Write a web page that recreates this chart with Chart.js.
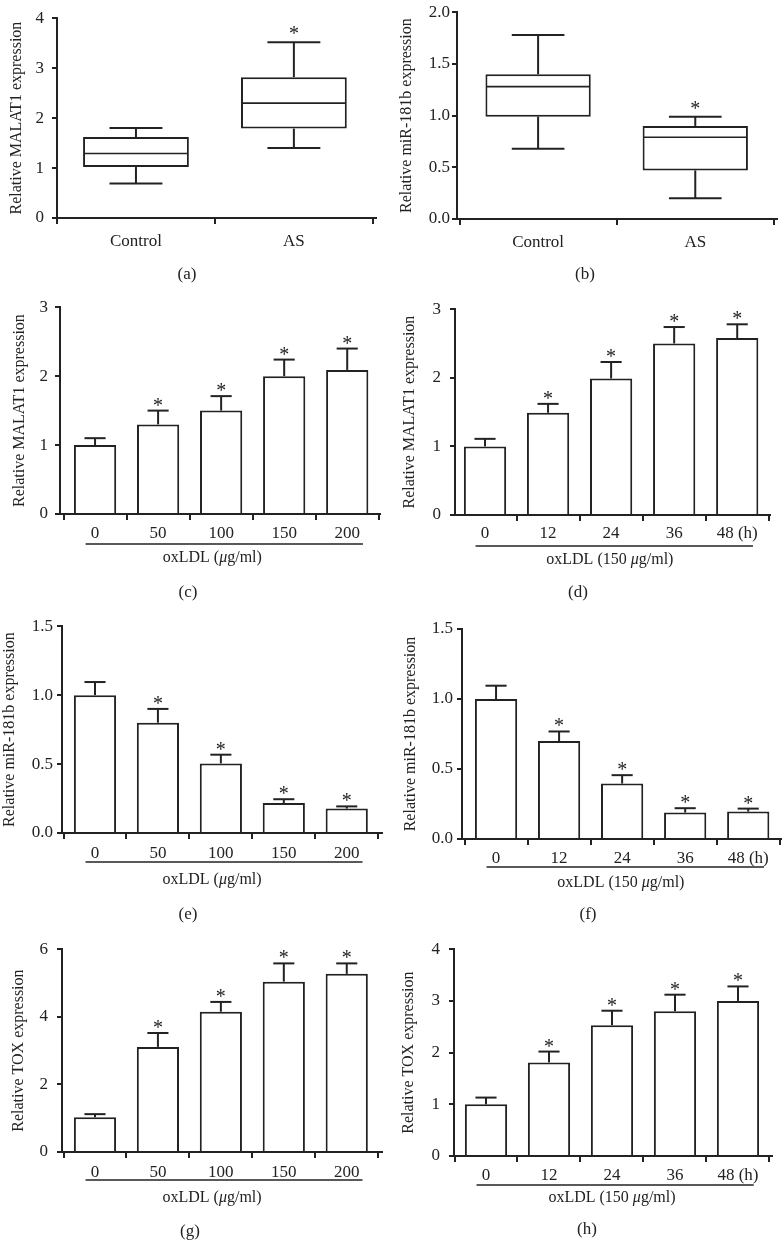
<!DOCTYPE html>
<html>
<head>
<meta charset="utf-8">
<script src="https://cdn.jsdelivr.net/npm/chart.js@4"></script>
<style>
  html, body { margin: 0; padding: 0; background: #fff; }
  #page { position: relative; width: 783px; height: 1253px; overflow: hidden; background: #fff; }
  #page canvas { position: absolute; }
</style>
</head>
<body>
<div id="page"></div>
<script>
// ---- data ----
const boxGroups = ['Control', 'AS'];
const malat1Min = [0.69, 1.40];
const malat1Q1 = [1.02, 1.79];
const malat1Median = [1.29, 2.30];
const malat1Q3 = [1.62, 2.82];
const malat1Max = [1.80, 3.52];
const mir181bMin = [0.68, 0.20];
const mir181bQ1 = [0.99, 0.47];
const mir181bMedian = [1.28, 0.79];
const mir181bQ3 = [1.40, 0.90];
const mir181bMax = [1.78, 0.99];
const boxStars = [false, true];

const doseLabels = ['0', '50', '100', '150', '200'];
const timeLabels = ['0', '12', '24', '36', '48 (h)'];
const barStars = [false, true, true, true, true];

const malat1Dose = [1.0, 1.30, 1.50, 2.00, 2.09];
const malat1DoseErr = [0.10, 0.20, 0.21, 0.24, 0.31];
const malat1Time = [1.0, 1.49, 1.99, 2.50, 2.58];
const malat1TimeErr = [0.11, 0.13, 0.24, 0.24, 0.20];
const mir181bDose = [1.0, 0.80, 0.505, 0.217, 0.177];
const mir181bDoseErr = [0.095, 0.10, 0.063, 0.028, 0.016];
const mir181bTime = [1.0, 0.70, 0.396, 0.189, 0.196];
const mir181bTimeErr = [0.095, 0.068, 0.06, 0.031, 0.021];
const toxDose = [1.03, 3.11, 4.15, 5.04, 5.27];
const toxDoseErr = [0.09, 0.41, 0.29, 0.54, 0.31];
const toxTime = [1.0, 1.81, 2.53, 2.80, 3.0];
const toxTimeErr = [0.13, 0.21, 0.28, 0.32, 0.28];

const INK = '#222222';
const FONT = '"Liberation Serif", "Times New Roman", serif';
const doseTitle = [['oxLDL (', false], ['\u03bc', true], ['g/ml)', false]];
const timeTitle = [['oxLDL (150 ', false], ['\u03bc', true], ['g/ml)', false]];

// layout of each panel: area = [left, right, top, bottom] of the plot, in page pixels
const panels = [
  { letter: '(a)', col: 0, top: 0, h: 290, area: [57, 376, 6, 218], xRange: [-0.5, 1.52],
    labels: boxGroups, box: { min: malat1Min, q1: malat1Q1, med: malat1Median, q3: malat1Q3, max: malat1Max },
    stars: boxStars, yMax: 4, step: 1, dec: 0, yTitle: 'Relative MALAT1 expression',
    titlePad: 7, yPad: 8, xPad: 7, letterX: 187, letterDy: 57 },
  { letter: '(b)', col: 1, top: 0, h: 290, area: [457, 777, 7, 219], xRange: [-0.516, 1.52],
    labels: boxGroups, box: { min: mir181bMin, q1: mir181bQ1, med: mir181bMedian, q3: mir181bQ3, max: mir181bMax },
    stars: boxStars, yMax: 2, step: 0.5, dec: 1, yTitle: 'Relative miR-181b expression',
    titlePad: 7, yPad: 2, xPad: 7, letterX: 585, letterDy: 56 },
  { letter: '(c)', col: 0, top: 290, h: 322, area: [60, 380, 302, 514], xRange: [-0.556, 4.52],
    labels: doseLabels, values: malat1Dose, err: malat1DoseErr, stars: barStars,
    yMax: 3, step: 1, dec: 0, yTitle: 'Relative MALAT1 expression', xTitle: doseTitle, titleAt: 1.86,
    titlePad: 10, yPad: 7, xPad: 3, lineDy: 30, titleDy: 44, letterX: 188, letterDy: 79 },
  { letter: '(d)', col: 1, top: 290, h: 322, area: [455, 770, 304, 515], xRange: [-0.476, 4.52],
    labels: timeLabels, values: malat1Time, err: malat1TimeErr, stars: barStars,
    yMax: 3, step: 1, dec: 0, yTitle: 'Relative MALAT1 expression', xTitle: timeTitle, titleAt: 1.98,
    titlePad: 10, yPad: 9, xPad: 2, lineDy: 31, titleDy: 45, letterX: 578, letterDy: 78 },
  { letter: '(e)', col: 0, top: 612, h: 318, area: [62, 382, 623, 833], xRange: [-0.524, 4.56],
    labels: doseLabels, values: mir181bDose, err: mir181bDoseErr, stars: barStars,
    yMax: 1.5, step: 0.5, dec: 1, yTitle: 'Relative miR-181b expression', xTitle: doseTitle, titleAt: 1.86,
    titlePad: 0, yPad: 4, xPad: 4, lineDy: 29, titleDy: 47, letterX: 188, letterDy: 82 },
  { letter: '(f)', col: 1, top: 612, h: 318, area: [462, 781, 629, 839], xRange: [-0.54, 4.52],
    labels: timeLabels, values: mir181bTime, err: mir181bTimeErr, stars: barStars,
    yMax: 1.5, step: 0.5, dec: 1, yTitle: 'Relative miR-181b expression', xTitle: timeTitle, titleAt: 1.98,
    titlePad: 11, yPad: 4, xPad: 3, lineDy: 28, titleDy: 44, letterX: 588, letterDy: 76 },
  { letter: '(g)', col: 0, top: 930, h: 323, area: [62, 382, 941, 1152], xRange: [-0.524, 4.56],
    labels: doseLabels, values: toxDose, err: toxDoseErr, stars: barStars,
    yMax: 6, step: 2, dec: 0, yTitle: 'Relative TOX expression', xTitle: doseTitle, titleAt: 1.86,
    titlePad: 9, yPad: 9, xPad: 4, lineDy: 28, titleDy: 46, letterX: 190, letterDy: 80 },
  { letter: '(h)', col: 1, top: 930, h: 323, area: [454, 772, 945, 1156], xRange: [-0.508, 4.54],
    labels: timeLabels, values: toxTime, err: toxTimeErr, stars: barStars,
    yMax: 4, step: 1, dec: 0, yTitle: 'Relative TOX expression', xTitle: timeTitle, titleAt: 2.0,
    titlePad: 9, yPad: 9, xPad: 3, lineDy: 29, titleDy: 42, letterX: 587, letterDy: 74 }
];

function seg(ctx, x0, y0, x1, y1) {
  ctx.beginPath();
  ctx.moveTo(x0, y0);
  ctx.lineTo(x1, y1);
  ctx.stroke();
}

// whiskers, error bars, stars, underline, x title and panel letter
function decorFor(p, canvasLeft) {
  return {
    id: 'decor' + p.letter,
    afterDatasetsDraw(chart) {
      const { ctx, scales: { y } } = chart;
      const bars = chart.getDatasetMeta(0).data;
      ctx.save();
      ctx.strokeStyle = INK;
      ctx.fillStyle = INK;
      ctx.lineWidth = 2;
      bars.forEach((bar, i) => {
        const { x: cx, width } = bar.getProps(['x', 'width'], true);
        let tip;
        if (p.box) {
          const half = width / 4;
          const top = y.getPixelForValue(p.box.max[i]);
          const bot = y.getPixelForValue(p.box.min[i]);
          const q1 = y.getPixelForValue(p.box.q1[i]);
          const q3 = y.getPixelForValue(p.box.q3[i]);
          const med = y.getPixelForValue(p.box.med[i]);
          seg(ctx, cx, q3, cx, top);
          seg(ctx, cx - half, top, cx + half, top);
          seg(ctx, cx, q1, cx, bot);
          seg(ctx, cx - half, bot, cx + half, bot);
          ctx.lineWidth = 1.6;
          seg(ctx, cx - width / 2 + 1, med, cx + width / 2 - 1, med);
          ctx.lineWidth = 2;
          tip = top - 2;
        } else {
          const half = width / 4;
          const barTop = y.getPixelForValue(p.values[i]);
          const top = y.getPixelForValue(p.values[i] + p.err[i]);
          seg(ctx, cx, barTop, cx, top);
          seg(ctx, cx - half, top, cx + half, top);
          tip = top + 1;
        }
        if (p.stars[i]) {
          ctx.font = '20px ' + FONT;
          ctx.textAlign = 'center';
          ctx.textBaseline = 'alphabetic';
          ctx.fillText('*', cx, tip);
        }
      });
      ctx.restore();
    },
    afterDraw(chart) {
      const { ctx, chartArea, scales: { x } } = chart;
      ctx.save();
      ctx.strokeStyle = INK;
      ctx.fillStyle = INK;
      ctx.textBaseline = 'middle';
      if (p.xTitle) {
        const yl = chartArea.bottom + p.lineDy;
        ctx.lineWidth = 1.5;
        seg(ctx, x.getPixelForValue(-0.15), yl, x.getPixelForValue(p.labels.length - 0.75), yl);
        const fonts = p.xTitle.map(([, it]) => (it ? 'italic ' : '') + '16px ' + FONT);
        let total = 0;
        p.xTitle.forEach(([t], k) => { ctx.font = fonts[k]; total += ctx.measureText(t).width; });
        let tx = x.getPixelForValue(p.titleAt) - total / 2;
        const ty = chartArea.bottom + p.titleDy;
        ctx.textAlign = 'left';
        p.xTitle.forEach(([t], k) => {
          ctx.font = fonts[k];
          ctx.fillText(t, tx, ty);
          tx += ctx.measureText(t).width;
        });
      }
      ctx.font = '17px ' + FONT;
      ctx.textAlign = 'center';
      ctx.fillText(p.letter, p.letterX - canvasLeft, chartArea.bottom + p.letterDy);
      ctx.restore();
    }
  };
}

const page = document.getElementById('page');

panels.forEach(p => {
  const left = p.col ? 390 : 0;
  const width = p.col ? 393 : 390;
  const [L, R, T, B] = p.area;
  const xH = 30;
  const canvas = document.createElement('canvas');
  canvas.width = width;
  canvas.height = p.h;
  canvas.style.left = left + 'px';
  canvas.style.top = p.top + 'px';
  page.appendChild(canvas);

  const data = p.box
    ? p.labels.map((_, i) => ({ x: i, y: [p.box.q1[i], p.box.q3[i]] }))
    : p.values.map((v, i) => ({ x: i, y: v }));

  new Chart(canvas, {
    type: 'bar',
    data: {
      datasets: [{
        data: data,
        backgroundColor: '#ffffff',
        borderColor: INK,
        borderWidth: 2,
        borderSkipped: p.box ? false : 'start',
        categoryPercentage: 0.67,
        barPercentage: 1
      }]
    },
    options: {
      responsive: false,
      animation: false,
      events: [],
      layout: {
        autoPadding: false,
        padding: { top: T - p.top, left: 0, right: left + width - R, bottom: p.top + p.h - B - xH }
      },
      plugins: { legend: { display: false }, tooltip: { enabled: false } },
      scales: {
        x: {
          type: 'linear',
          min: p.xRange[0],
          max: p.xRange[1],
          bounds: 'data',
          offset: false,
          afterBuildTicks: s => { s.ticks = p.labels.map((_, i) => ({ value: i })); },
          afterFit: s => { s.height = xH; },
          ticks: {
            callback: v => p.labels[v],
            autoSkip: false,
            maxRotation: 0,
            padding: p.xPad,
            color: INK,
            font: { family: FONT, size: 17 }
          },
          grid: { drawOnChartArea: false, drawTicks: true, tickLength: 6, color: INK, lineWidth: 2 },
          border: { color: INK, width: 2 }
        },
        y: {
          min: 0,
          max: p.yMax,
          afterFit: s => { s.width = L - left; },
          ticks: {
            stepSize: p.step,
            callback: v => v.toFixed(p.dec),
            padding: p.yPad,
            color: INK,
            font: { family: FONT, size: 17 }
          },
          grid: { drawOnChartArea: false, drawTicks: true, tickLength: 5, color: INK, lineWidth: 2 },
          border: { color: INK, width: 2 },
          title: {
            display: true,
            text: p.yTitle,
            color: INK,
            font: { family: FONT, size: 16 },
            padding: { top: p.titlePad, bottom: 0 }
          }
        }
      }
    },
    plugins: [decorFor(p, left)]
  });
});
</script>
</body>
</html>
